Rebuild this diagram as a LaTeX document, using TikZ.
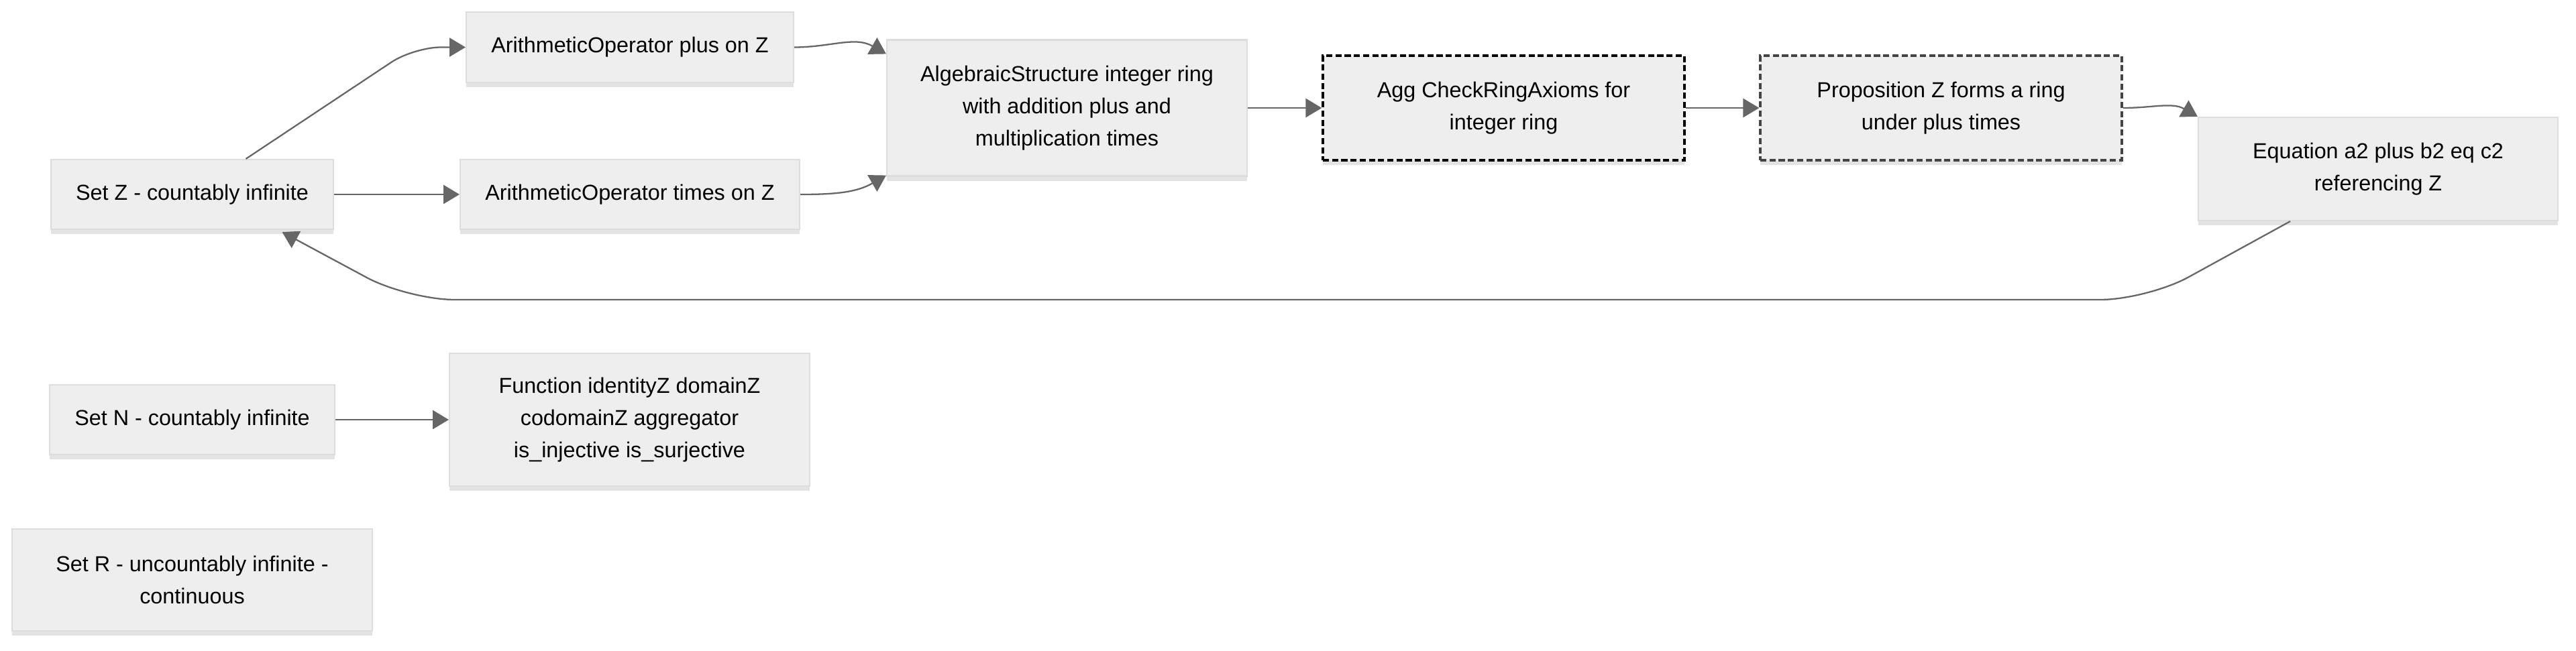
\documentclass[tikz,border=0pt]{standalone}
\usepackage{fontspec}
\setmainfont{Liberation Sans}
\usetikzlibrary{arrows.meta,shadows}
\definecolor{boxfill}{HTML}{EEEEEE}
\definecolor{boxline}{HTML}{DDDDDD}
\definecolor{linkgray}{HTML}{666666}
\definecolor{propline}{HTML}{444444}

\begin{document}
\begin{tikzpicture}[
        box/.style={draw=boxline, fill=boxfill, line width=0.6pt, align=center, inner sep=0pt,
            font=\fontsize{9.2}{13.7}\selectfont,
            drop shadow={shadow xshift=0pt, shadow yshift=-2pt, opacity=0.18, fill=black!60}},
        aggbox/.style={box, draw=black, line width=0.95pt, dash pattern=on 2.6pt off 1.3pt},
        propbox/.style={box, draw=propline, line width=0.95pt, dash pattern=on 2.6pt off 1.3pt},
        link/.style={draw=linkgray, line width=0.65pt, -{Triangle[length=6.8pt,width=8pt]}}]
        \useasboundingbox (0,0) rectangle (38.4,-9.7);

        % sets and operators
        \node[box, minimum width=4.21cm, minimum height=1.04cm] (zset) at (2.865,-2.90) {Set Z - countably infinite};
        \node[box, minimum width=4.88cm, minimum height=1.05cm] (pplus) at (9.39,-0.705) {ArithmeticOperator plus on Z};
        \node[box, minimum width=5.06cm, minimum height=1.04cm] (ptimes) at (9.39,-2.90) {ArithmeticOperator times on Z};
        \node[box, minimum width=5.37cm, minimum height=2.03cm] (alg) at (15.905,-1.61) {AlgebraicStructure integer ring\\with addition plus and\\multiplication times};
        \node[aggbox, minimum width=5.39cm, minimum height=1.56cm] (agg) at (22.415,-1.61) {Agg CheckRingAxioms for\\integer ring};
        \node[propbox, minimum width=5.39cm, minimum height=1.56cm] (prop) at (28.935,-1.61) {Proposition Z forms a ring\\under plus times};
        \node[box, minimum width=5.36cm, minimum height=1.54cm] (eq) at (35.45,-2.52) {Equation a2 plus b2 eq c2\\referencing Z};

        \node[box, minimum width=4.25cm, minimum height=1.04cm] (nset) at (2.865,-6.26) {Set N - countably infinite};
        \node[box, minimum width=5.37cm, minimum height=1.98cm] (func) at (9.385,-6.26) {Function identityZ domainZ\\codomainZ aggregator\\is\_injective is\_surjective};
        \node[box, minimum width=5.37cm, minimum height=1.52cm] (rset) at (2.865,-8.65) {Set R - uncountably infinite -\\continuous};

        % connectors
        \draw[link, rounded corners=0.4cm] ([xshift=0.8cm]zset.north) -- ([xshift=-0.77cm]pplus.west) -- (pplus.west);
        \draw[link] (zset) -- (ptimes);
        \draw[link] (pplus.east) to[out=0, in=150] ([yshift=-0.22cm]alg.north west);
        \draw[link] (ptimes.east) to[out=0, in=-150] ([yshift=0.02cm]alg.south west);
        \draw[link] (alg) -- (agg);
        \draw[link] (agg) -- (prop);
        \draw[link] (prop.east) to[out=0, in=150] (eq.north west);

        \coordinate (bendR) at (32.01,-4.47);
        \coordinate (bendL) at (6.08,-4.47);
        \draw[link, rounded corners=0.7cm] ([xshift=-1.31cm]eq.south) -- (bendR) -- (bendL) -- ([xshift=1.34cm, yshift=-0.03cm]zset.south);

        \draw[link] (nset) -- (func);
\end{tikzpicture}
\end{document}
